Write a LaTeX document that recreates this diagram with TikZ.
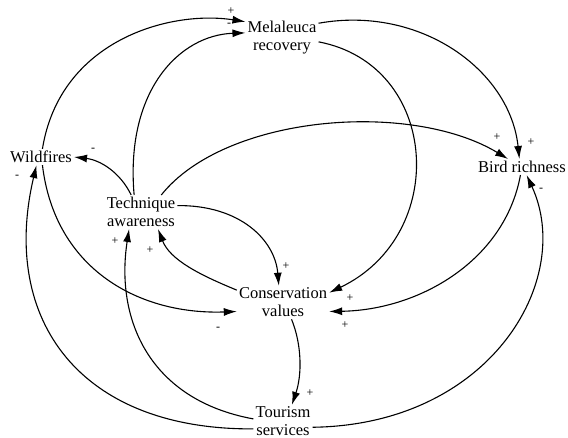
\documentclass[tikz,border=0pt]{standalone}
\usepackage{fontspec}
\setmainfont{Liberation Serif}
\usetikzlibrary{arrows.meta}
\begin{document}
\begin{tikzpicture}[x=1pt,y=-1pt,
  var/.style={inner sep=2pt,align=center,font=\fontsize{16.5}{18}\selectfont},
  sgn/.style={inner sep=0pt,font=\fontsize{12}{12}\selectfont},
  link/.style={line width=1.1pt,-{Latex[length=13pt,width=8pt]}}]
\useasboundingbox (0,0) rectangle (568,437);
\fill[white] (0,0) rectangle (568,437);
% variables
\node[var] (M) at (282,38) {Melaleuca\\recovery};
\node[var] (W) at (41,157) {Wildfires};
\node[var] (T) at (141,212) {Technique\\awareness};
\node[var] (B) at (522,167) {Bird richness};
\node[var] (C) at (283,302.5) {Conservation\\values};
\node[var] (S) at (283,421.5) {Tourism\\services};
% links
\draw[link] (W.80) .. controls (60,40) and (170,10) .. (M.156);
\draw[link] (T.112) .. controls (125,90) and (180,35) .. (M.172);
\draw[link] (T.120) .. controls (120,172) and (100,160) .. (W.east);
\draw[link] (T.40) .. controls (225,115) and (410,100) .. (B.150);
\draw[link] (T.10) .. controls (240,205) and (275,240) .. (C.104);
\draw[link] (C.165) .. controls (200,275) and (170,260) .. (T.315);
\draw[link] (S.175) .. controls (150,400) and (115,320) .. (T.235);
\draw[link] (S.194) .. controls (80,430) and (0,320) .. (W.241);
\draw[link] (W.280) .. controls (55,270) and (140,315) .. (C.191);
\draw[link] (M.22) .. controls (420,5) and (510,70) .. (B.108);
\draw[link] (M.354) .. controls (440,65) and (450,235) .. (C.12);
\draw[link] (B.259) .. controls (505,260) and (420,310) .. (C.349);
\draw[link] (S.349) .. controls (490,425) and (575,280) .. (B.300);
\draw[link] (C.297) .. controls (302,345) and (302,375) .. (S.62);
% signs
\node[sgn] (s1) at (231,11) {+};
\node[sgn] (s2) at (229,25) {-};
\node[sgn] (s3) at (93,150) {-};
\node[sgn] (s4) at (17,177) {-};
\node[sgn] (s5) at (497,137) {+};
\node[sgn] (s6) at (531,142) {+};
\node[sgn] (s7) at (541,190) {-};
\node[sgn] (s8) at (286,266) {+};
\node[sgn] (s9) at (350,298) {+};
\node[sgn] (s10) at (345,325) {+};
\node[sgn] (s11) at (150,250) {+};
\node[sgn] (s12) at (115,241) {+};
\node[sgn] (s13) at (218,329) {-};
\node[sgn] (s14) at (310,393) {+};
\end{tikzpicture}
\end{document}
